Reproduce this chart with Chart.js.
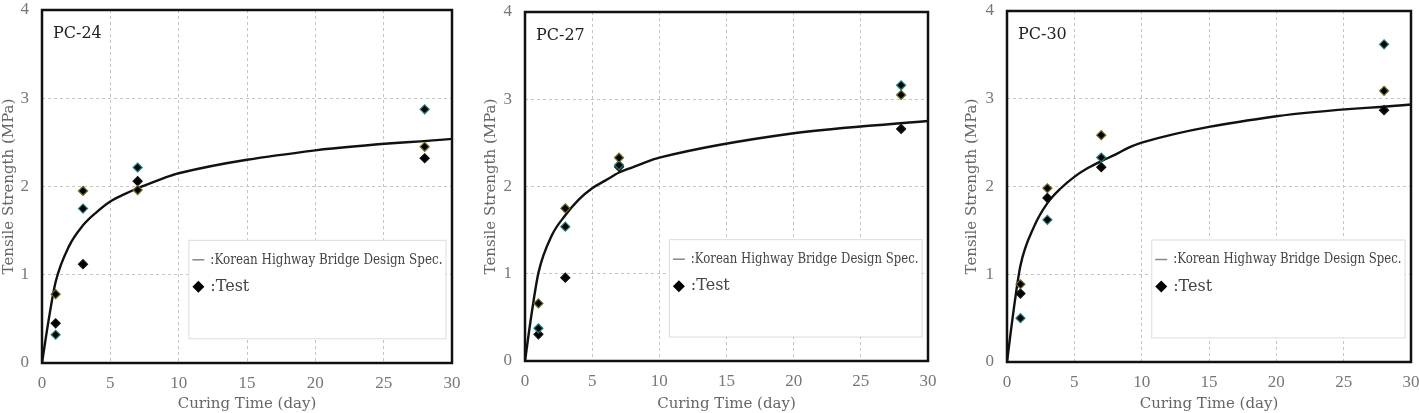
<!DOCTYPE html>
<html>
<head>
<meta charset="utf-8">
<script src="https://cdn.jsdelivr.net/npm/chart.js@4.4.1/dist/chart.umd.min.js"></script>
<style>
  body { margin: 0; background: #fff; }
  .wrap { position: relative; width: 1419px; height: 413px; }
  canvas { position: absolute; top: 0; }
</style>
</head>
<body>
<div class="wrap">
  <canvas id="pc24" width="470" height="413" style="left:0px"></canvas>
  <canvas id="pc27" width="463" height="413" style="left:482px"></canvas>
  <canvas id="pc30" width="456" height="413" style="left:963px"></canvas>
</div>
<script>
// Data
const xTickValues = [0, 5, 10, 15, 20, 25, 30];
const yTickValues = [0, 1, 2, 3, 4];

// Design spec curve (days / MPa)
const specDays = [0, 0.5, 1, 2, 3, 4, 5, 6, 7, 8, 9, 10, 20, 30];
const pc24Spec = [0, 0.50, 0.92, 1.33, 1.56, 1.71, 1.83, 1.91, 1.98, 2.04, 2.10, 2.15, 2.41, 2.54];
const pc27Spec = [0, 0.55, 1.01, 1.44, 1.67, 1.85, 1.98, 2.07, 2.16, 2.22, 2.28, 2.33, 2.61, 2.75];
const pc30Spec = [0, 0.60, 1.10, 1.54, 1.81, 1.98, 2.11, 2.21, 2.29, 2.36, 2.44, 2.50, 2.80, 2.935];

// Test results, three specimens per age
const testDays = [1, 3, 7, 28];
const pc24A = [0.78, 1.95, 1.96, 2.45];
const pc24B = [0.32, 1.75, 2.215, 2.875];
const pc24C = [0.45, 1.12, 2.06, 2.32];
const pc27A = [0.66, 1.75, 2.33, 3.05];
const pc27B = [0.375, 1.54, 2.245, 3.16];
const pc27C = [0.306, 0.955, 2.225, 2.66];
const pc30A = [0.886, 1.98, 2.585, 3.09];
const pc30B = [0.50, 1.62, 2.33, 3.62];
const pc30C = [0.78, 1.87, 2.22, 2.87];

const specLabel = ':Korean Highway Bridge Design Spec.';
const testLabel = ':Test';
const serif = "'DejaVu Serif', serif";

function toPoints(xs, ys) {
    return xs.map((x, i) => ({ x: x, y: ys[i] }));
}

// frame, panel name and boxed legend inside the plot
const panelDecor = {
    id: 'panelDecor',
    afterDraw(chart) {
        const ctx = chart.ctx;
        const a = chart.chartArea;
        const w = a.right - a.left, h = a.bottom - a.top;
        ctx.save();

        // legend box
        const bx = a.left + w * 0.357, by = a.top + h * 0.651;
        const bw = w * 0.627, bh = h * 0.279;
        ctx.fillStyle = '#fff';
        ctx.fillRect(bx, by, bw, bh);
        ctx.strokeStyle = '#dcdcdc';
        ctx.lineWidth = 1;
        ctx.strokeRect(bx + 0.5, by + 0.5, bw, bh);

        ctx.strokeStyle = '#888';
        ctx.lineWidth = 1.5;
        ctx.beginPath();
        ctx.moveTo(bx + 4, by + 20);
        ctx.lineTo(bx + 16, by + 20);
        ctx.stroke();

        ctx.fillStyle = '#000';
        ctx.beginPath();
        ctx.moveTo(bx + 10, by + 41);
        ctx.lineTo(bx + 16, by + 47);
        ctx.lineTo(bx + 10, by + 53);
        ctx.lineTo(bx + 4, by + 47);
        ctx.closePath();
        ctx.fill();

        ctx.fillStyle = '#444';
        ctx.font = '15px ' + serif;
        ctx.textBaseline = 'middle';
        ctx.textAlign = 'left';
        ctx.fillText(specLabel, bx + 22, by + 20, bw - 25);
        ctx.font = '16px ' + serif;
        ctx.fillText(testLabel, bx + 22, by + 47);

        // panel name
        ctx.fillStyle = '#222';
        ctx.font = '16px ' + serif;
        ctx.fillText(chart.options.plugins.panelDecor.name, a.left + 11, a.top + 24);

        // frame
        ctx.strokeStyle = '#111';
        ctx.lineWidth = 2.5;
        ctx.strokeRect(a.left, a.top, w, h);
        ctx.restore();
    }
};

function makeChart(id, name, spec, tA, tB, tC, box) {
    const marker = (data, edge) => ({
        type: 'scatter',
        data: toPoints(testDays, data),
        pointStyle: 'rectRot',
        pointRadius: 4.5,
        backgroundColor: '#000',
        borderColor: edge,
        borderWidth: 1.2,
        order: 1
    });

    new Chart(document.getElementById(id), {
        type: 'scatter',
        data: {
            datasets: [
                marker(tA, '#6f6a1c'),
                marker(tB, '#1f7f80'),
                marker(tC, '#111'),
                {
                    type: 'line',
                    data: toPoints(specDays, spec),
                    borderColor: '#111',
                    borderWidth: 2.4,
                    pointRadius: 0,
                    cubicInterpolationMode: 'monotone',
                    fill: false,
                    order: 2
                }
            ]
        },
        options: {
            responsive: false,
            animation: false,
            devicePixelRatio: 1,
            layout: { padding: { top: box.top, right: box.right, bottom: 0, left: 0 } },
            plugins: {
                legend: { display: false },
                tooltip: { enabled: false },
                panelDecor: { name: name }
            },
            scales: {
                x: {
                    type: 'linear',
                    min: 0,
                    max: 30,
                    afterBuildTicks: s => { s.ticks = xTickValues.map(v => ({ value: v })); },
                    afterFit: s => { s.height = box.xHeight; s.paddingLeft = 0; s.paddingRight = 0; },
                    grid: { color: '#c4c4c4', lineWidth: 1, drawTicks: false },
                    border: { display: false, dash: [3, 3] },
                    ticks: {
                        padding: 10,
                        color: '#777',
                        font: { family: "'Liberation Serif', serif", size: 17 }
                    },
                    title: {
                        display: true,
                        text: 'Curing Time (day)',
                        color: '#666',
                        padding: { top: 0, bottom: 0 },
                        font: { family: serif, size: 15 }
                    }
                },
                y: {
                    type: 'linear',
                    min: 0,
                    max: 4,
                    afterBuildTicks: s => { s.ticks = yTickValues.map(v => ({ value: v })); },
                    afterFit: s => { s.width = box.yWidth; s.paddingTop = 0; s.paddingBottom = 0; },
                    grid: { color: '#c4c4c4', lineWidth: 1, drawTicks: false },
                    border: { display: false, dash: [3, 3] },
                    ticks: {
                        padding: 13,
                        color: '#777',
                        font: { family: "'Liberation Serif', serif", size: 17 }
                    },
                    title: {
                        display: true,
                        text: 'Tensile Strength (MPa)',
                        color: '#666',
                        padding: 0,
                        font: { family: serif, size: 15 }
                    }
                }
            }
        },
        plugins: [panelDecor]
    });
}

makeChart('pc24', 'PC-24', pc24Spec, pc24A, pc24B, pc24C, { yWidth: 42, xHeight: 50, top: 10, right: 18 });
makeChart('pc27', 'PC-27', pc27Spec, pc27A, pc27B, pc27C, { yWidth: 43, xHeight: 52, top: 12, right: 17 });
makeChart('pc30', 'PC-30', pc30Spec, pc30A, pc30B, pc30C, { yWidth: 44, xHeight: 51, top: 11, right: 8 });
</script>
</body>
</html>
